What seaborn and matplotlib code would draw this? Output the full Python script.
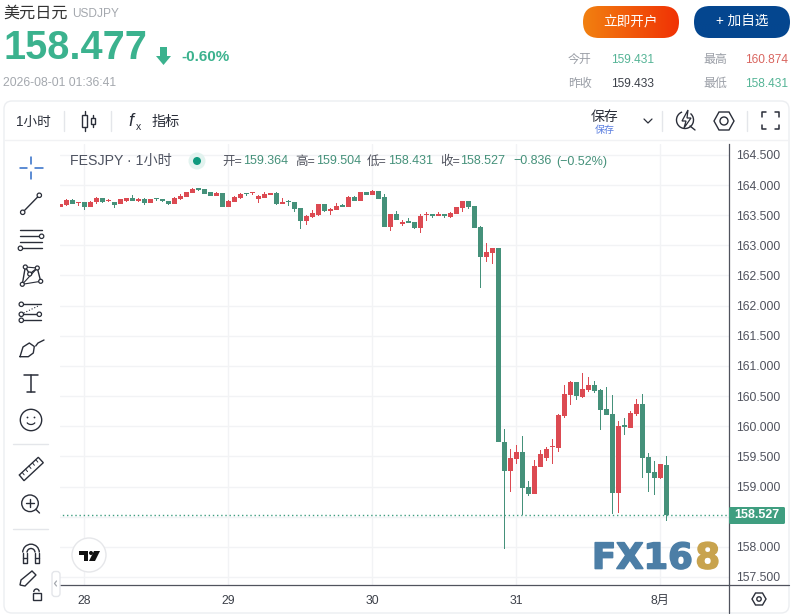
import numpy as np
import pandas as pd
import matplotlib
matplotlib.use("Agg")
import matplotlib.pyplot as plt
import matplotlib.patheffects as pe
import seaborn as sns
from matplotlib.patches import FancyBboxPatch, Circle, Rectangle, Polygon, Arc

# hourly candles
opens = [163.64, 163.67, 163.75, 163.70, 163.72, 163.64, 163.72, 163.78, 163.73, 163.72,
         163.69, 163.73, 163.78, 163.74, 163.77, 163.70, 163.77, 163.75, 163.73, 163.69,
         163.77, 163.80, 163.87, 163.93, 163.93, 163.88, 163.82, 163.87, 163.64, 163.72,
         163.78, 163.87, 163.86, 163.77, 163.78, 163.83, 163.87, 163.69, 163.72, 163.72,
         163.62, 163.40, 163.47, 163.50, 163.69, 163.57, 163.59, 163.65, 163.64, 163.80,
         163.74, 163.88, 163.83, 163.90, 163.80, 163.30, 163.52, 163.36, 163.39, 163.39,
         163.29, 163.50, 163.50, 163.49, 163.50, 163.47, 163.52, 163.62, 163.73, 163.65,
         163.30, 162.81, 162.87, 162.96, 159.74, 159.26, 159.46, 159.57, 158.99, 158.88,
         159.32, 159.47, 159.65, 159.64, 160.17, 160.52, 160.73, 160.48, 160.60, 160.68,
         160.60, 160.29, 160.20, 158.89, 160.00, 159.97, 160.20, 160.37, 159.49, 159.24,
         159.14, 159.364]
highs = [163.69, 163.77, 163.77, 163.71, 163.72, 163.73, 163.80, 163.79, 163.77, 163.72,
         163.77, 163.78, 163.83, 163.78, 163.78, 163.77, 163.78, 163.77, 163.73, 163.80,
         163.85, 163.88, 163.95, 163.94, 163.93, 163.88, 163.88, 163.87, 163.75, 163.81,
         163.86, 163.87, 163.88, 163.83, 163.88, 163.87, 163.88, 163.78, 163.75, 163.72,
         163.62, 163.50, 163.59, 163.69, 163.69, 163.62, 163.70, 163.69, 163.82, 163.82,
         163.88, 163.88, 163.91, 163.90, 163.85, 163.52, 163.57, 163.42, 163.45, 163.39,
         163.52, 163.55, 163.50, 163.55, 163.52, 163.55, 163.64, 163.73, 163.73, 163.65,
         163.32, 163.04, 162.96, 162.96, 159.95, 159.62, 159.69, 159.84, 159.09, 159.44,
         159.60, 159.66, 159.79, 160.20, 160.68, 160.75, 160.73, 160.88, 160.82, 160.75,
         160.62, 160.65, 160.52, 160.09, 160.14, 160.25, 160.45, 160.53, 159.56, 159.42,
         159.37, 159.504]
lows = [163.64, 163.65, 163.68, 163.65, 163.59, 163.64, 163.69, 163.70, 163.72, 163.62,
        163.68, 163.72, 163.73, 163.72, 163.67, 163.70, 163.73, 163.72, 163.67, 163.69,
        163.75, 163.80, 163.87, 163.90, 163.85, 163.82, 163.82, 163.64, 163.64, 163.72,
        163.77, 163.82, 163.83, 163.70, 163.78, 163.83, 163.67, 163.69, 163.65, 163.55,
        163.27, 163.34, 163.45, 163.49, 163.55, 163.50, 163.59, 163.64, 163.64, 163.74,
        163.74, 163.83, 163.83, 163.77, 163.30, 163.24, 163.42, 163.32, 163.37, 163.27,
        163.20, 163.40, 163.45, 163.49, 163.45, 163.45, 163.52, 163.55, 163.60, 163.29,
        162.29, 162.72, 162.69, 159.73, 157.97, 158.91, 159.37, 158.53, 158.84, 158.88,
        159.32, 159.42, 159.37, 159.57, 160.14, 160.35, 160.43, 160.47, 160.57, 160.55,
        159.94, 160.19, 158.54, 158.56, 159.85, 159.97, 160.17, 159.14, 158.91, 158.86,
        159.12, 158.431]
closes = [163.69, 163.75, 163.69, 163.71, 163.64, 163.72, 163.78, 163.72, 163.74, 163.67,
          163.76, 163.78, 163.74, 163.77, 163.70, 163.77, 163.76, 163.74, 163.69, 163.78,
          163.82, 163.88, 163.93, 163.92, 163.85, 163.82, 163.87, 163.64, 163.74, 163.80,
          163.85, 163.85, 163.87, 163.82, 163.85, 163.87, 163.69, 163.72, 163.71, 163.60,
          163.40, 163.49, 163.54, 163.69, 163.57, 163.61, 163.65, 163.64, 163.80, 163.74,
          163.88, 163.83, 163.90, 163.77, 163.30, 163.52, 163.42, 163.38, 163.37, 163.29,
          163.49, 163.51, 163.49, 163.50, 163.49, 163.54, 163.64, 163.73, 163.64, 163.29,
          162.81, 162.89, 162.96, 159.73, 159.26, 159.47, 159.57, 158.97, 158.88, 159.34,
          159.54, 159.62, 159.66, 160.19, 160.53, 160.73, 160.50, 160.62, 160.68, 160.58,
          160.27, 160.19, 158.89, 160.00, 159.99, 160.22, 160.37, 159.47, 159.22, 159.14,
          159.37, 158.527]

price_ticks = [157.5, 158.0, 158.5, 159.0, 159.5, 160.0, 160.5, 161.0, 161.5, 162.0,
               162.5, 163.0, 163.5, 164.0, 164.5]
day_ticks = [4, 28, 52, 76, 100]
day_labels = ["28", "29", "30", "31", "8月"]
last_price = 158.527

UP = "#dc4a52"
DOWN = "#45917a"
GRID = "#f2f3f5"
AXIS = "#50535e"
TEAL = "#3bb28e"
ICON = "#2a2e39"

sns.set_theme(style="white")
plt.rcParams["font.family"] = ["Liberation Sans", "Noto Sans CJK SC"]
plt.rcParams["axes.unicode_minus"] = False

df = pd.DataFrame({"open": opens, "high": highs, "low": lows, "close": closes})
df["bar"] = np.arange(len(df))
df["top"] = df[["open", "close"]].max(axis=1)
df["bottom"] = df[["open", "close"]].min(axis=1)

W, H = 796, 614
fig = plt.figure(figsize=(W / 100, H / 100), dpi=100, facecolor="white")
ax = fig.add_axes([60 / W, 1 - 585 / H, 669 / W, 441 / H])
ax.patch.set_alpha(0)


def candles(sub, color):
    # a thin bar for the wick, a wide one for the body
    d = sub.assign(wick=sub["high"] - sub["low"], body=(sub["top"] - sub["bottom"]).clip(lower=0.025))
    sns.barplot(data=d, x="bar", y="wick", bottom=d["low"].values, native_scale=True, orient="x",
                width=0.24, color=color, saturation=1, errorbar=None, linewidth=0, ax=ax, zorder=3)
    sns.barplot(data=d, x="bar", y="body", bottom=d["bottom"].values, native_scale=True, orient="x",
                width=0.88, color=color, saturation=1, errorbar=None, linewidth=0, ax=ax, zorder=4)


candles(df[df["close"] >= df["open"]], UP)
candles(df[df["close"] < df["open"]], DOWN)
sns.lineplot(x=[-1, 112], y=[last_price, last_price], color="#3f9e80", linestyle=(0, (1, 2)),
             linewidth=1, ax=ax, zorder=2)

ax.set_xlim(-0.05, 111.45)
ax.set_ylim(164 - 400 / 60.3, 164 + 41 / 60.3)
ax.set_xticks(day_ticks)
ax.set_xticklabels(day_labels)
ax.set_yticks(price_ticks)
# 158.500 sits behind the last-price tag, so it stays blank
ax.set_yticklabels(["" if p == 158.5 else "%.3f" % p for p in price_ticks])
ax.yaxis.tick_right()
ax.tick_params(axis="y", length=0, pad=5, labelsize=8.8, labelcolor="#50535e")
ax.tick_params(axis="x", length=0, pad=7, labelsize=8.8, labelcolor="#3c4049")
ax.set_xlabel("")
ax.set_ylabel("")
ax.grid(True, color=GRID, linewidth=1)
ax.set_axisbelow(True)
for s in ["top", "left"]:
    ax.spines[s].set_visible(False)
for s in ["right", "bottom"]:
    ax.spines[s].set_color(AXIS)
    ax.spines[s].set_linewidth(0.9)

# page furniture, in pixel coordinates of the screenshot
ov = fig.add_axes([0, 0, 1, 1], zorder=5)
ov.set_xlim(0, W)
ov.set_ylim(H, 0)
ov.axis("off")


def line(xs, ys, color=ICON, lw=1.0, **kw):
    ov.plot(xs, ys, color=color, lw=lw, solid_capstyle="round", **kw)


def ring(x, y, r=2.2, color=ICON, lw=0.9, face="white"):
    ov.add_patch(Circle((x, y), r, fc=face, ec=color, lw=lw, zorder=6))


def txt(x, y, s, size=8.8, color="#50535e", ha="left", **kw):
    ov.text(x, y, s, fontsize=size, color=color, ha=ha, va="center", **kw)


def button(x, y, w, h, colors):
    box = FancyBboxPatch((x, y), w, h, boxstyle="round,pad=0,rounding_size=16", fc="none", ec="none")
    ov.add_patch(box)
    grad = np.linspace(0, 1, 64).reshape(1, -1)
    cmap = matplotlib.colors.LinearSegmentedColormap.from_list("b", colors)
    im = ov.imshow(grad, extent=[x, x + w, y + h, y], cmap=cmap, aspect="auto", zorder=2)
    im.set_clip_path(box)


def hexagon(cx, cy, rx, ry, r_in):
    pts = [(cx - rx, cy), (cx - rx / 2, cy - ry), (cx + rx / 2, cy - ry), (cx + rx, cy),
           (cx + rx / 2, cy + ry), (cx - rx / 2, cy + ry)]
    ov.add_patch(Polygon(pts, closed=True, fc="none", ec=ICON, lw=1.0))
    ov.add_patch(Circle((cx, cy), r_in, fc="none", ec=ICON, lw=1.0))


# panel outline and chart axis extensions
ov.add_patch(FancyBboxPatch((4, 101), 785, 512, boxstyle="round,pad=0,rounding_size=8",
                            fc="none", ec="#eceef1", lw=1.0))
line([5, 788], [140, 140], color="#f1f2f4", lw=1)
line([729, 789], [585, 585], color=AXIS, lw=0.9)
line([729, 729], [585, 613], color=AXIS, lw=0.9)

# header
txt(3, 13, "美元日元", size=11.6, color="#333333")
txt(72, 14, "USDJPY", size=8.6, color="#a4a8ae")
txt(4, 48, "158.477", size=28.6, color=TEAL, fontweight="bold")
ov.add_patch(Polygon([(160, 47), (167, 47), (167, 56), (171, 56), (163.5, 65), (156, 56), (160, 56)],
                     closed=True, fc=TEAL, ec="none"))
txt(181, 57, "-0.60%", size=11, color=TEAL, fontweight="bold")
txt(3, 83, "2026-08-01 01:36:41", size=8.7, color="#a4a8ae")

button(583, 6, 96, 32, ["#f28010", "#f03205"])
button(694, 6, 96, 32, ["#04468f", "#04468f"])
txt(631, 22, "立即开户", size=9.8, color="white", ha="center")
txt(742, 22, "+ 加自选", size=9.8, color="white", ha="center")

for x, y, s, c in [(568, 60, "今开", "#9a9ea6"), (703, 60, "最高", "#9a9ea6"),
                   (568, 84, "昨收", "#9a9ea6"), (703, 84, "最低", "#9a9ea6"),
                   (611, 60, "159.431", "#55b496"), (745, 60, "160.874", "#d9655f"),
                   (611, 84, "159.433", "#3c4049"), (745, 84, "158.431", "#55b496")]:
    txt(x, y, s, size=8.6, color=c)

# top toolbar
txt(16, 122, "1小时", size=9.8, color=ICON)
line([64, 64], [111, 131], color="#e4e6ea")
line([111, 111], [111, 131], color="#e4e6ea")
line([662, 662], [111, 131], color="#e4e6ea")
line([747, 747], [111, 131], color="#e4e6ea")
line([84.5, 84.5], [111, 131])
ov.add_patch(Rectangle((82, 115), 5, 12, fc="white", ec=ICON, lw=1, zorder=6))
line([92.5, 92.5], [115, 127])
ov.add_patch(Rectangle((90.5, 118), 4, 6, fc="white", ec=ICON, lw=1, zorder=6))
txt(128, 121, "f", size=13, color=ICON, fontstyle="italic")
txt(136, 127, "x", size=7.5, color=ICON)
txt(152, 122, "指标", size=10.2, color=ICON)
txt(591, 117, "保存", size=10, color=ICON)
txt(595, 130, "保存", size=7.2, color="#5b7fe0")
line([644, 648, 652], [119, 123, 119], lw=0.9)
# alert icon
ov.add_patch(Arc((685, 120), 17, 17, theta1=-50, theta2=250, ec=ICON, lw=1))
ov.add_patch(Polygon([(688, 110), (682, 121), (686, 121), (684, 128), (691, 118), (687, 118)],
                     closed=True, fc="white", ec=ICON, lw=0.9, zorder=6))
line([690, 695], [126, 130])
hexagon(724, 121, 10, 9, 4)
for sx, sy in [(1, 1), (-1, 1), (1, -1), (-1, -1)]:
    cx, cy = 770.3 - sx * 8.7, 120.7 - sy * 8.7
    line([cx + sx * 4.5, cx, cx], [cy, cy, cy + sy * 4.5], lw=1.1)

# left toolbar
blue = "#2f6cc8"
line([20, 27], [168, 168], color=blue, lw=1.1)
line([35, 43], [168, 168], color=blue, lw=1.1)
line([31, 31], [157, 164], color=blue, lw=1.1)
line([31, 31], [172, 179], color=blue, lw=1.1)

line([22.7, 39.3], [212.3, 195.3])
ring(22.7, 212.3)
ring(39.3, 195.3)

for y, x0, x1 in [(230, 20, 42), (236, 20, 42), (242.3, 20, 42), (248.3, 20, 42)]:
    line([x0, x1], [y, y])
ring(41.6, 236.3)
ring(20.4, 248.3)

xabcd = [(22.3, 284.3), (25.3, 267), (29.7, 274), (37.3, 268), (40.7, 281.3)]
line([p[0] for p in xabcd], [p[1] for p in xabcd])
line([25.3, 37.3, 22.3, 40.7], [267, 268, 284.3, 281.3], lw=0.8)
for p in xabcd:
    ring(p[0], p[1], r=2)

line([21, 41], [304.3, 304.3])
line([21, 39], [314.3, 314.3])
line([21, 41], [320.3, 320.3])
ov.plot([21, 39], [314.3, 305.6], color=ICON, lw=0.8, ls=":")
ring(21.3, 304.3)
ring(21.3, 314.3)
ring(39.3, 314.3)
ring(21.3, 320.3)

brush = [(20, 356.7), (23, 347), (29.3, 343), (34.3, 346.5), (33.3, 353), (28.3, 356.7), (20, 356.7)]
line([p[0] for p in brush], [p[1] for p in brush])
line([35.7, 38, 44], [346, 343, 340])

line([24, 38.3], [375, 375], lw=1.1)
line([31, 31], [375, 392.3], lw=1.1)
line([26.7, 35.3], [392.3, 392.3], lw=1.1)

ov.add_patch(Circle((31, 420), 10.7, fc="none", ec=ICON, lw=1))
ov.add_patch(Circle((27.5, 417.5), 0.9, fc=ICON, ec="none"))
ov.add_patch(Circle((34.5, 417.5), 0.9, fc=ICON, ec="none"))
ov.add_patch(Arc((31, 421), 9, 7, theta1=20, theta2=160, ec=ICON, lw=0.9))

line([13, 48], [444.3, 444.3], color="#e4e6ea")
ov.add_patch(Polygon([(19.3, 475), (38.3, 457.3), (43.3, 462.7), (24, 480.7)], closed=True,
                     fc="none", ec=ICON, lw=1))
for t in np.arange(0.15, 0.95, 0.18):
    bx, by = 19.3 + t * 19, 475 - t * 17.7
    line([bx, bx + 2], [by, by + 2.5], lw=0.7)

ov.add_patch(Circle((30, 503.3), 8.3, fc="none", ec=ICON, lw=1))
line([26, 34], [503.3, 503.3])
line([30, 30], [499.3, 507.3])
line([36, 39.5], [509.5, 513])

line([13, 48], [529, 529], color="#e4e6ea")
ov.add_patch(Arc((31, 552.5), 16.6, 16.6, theta1=180, theta2=360, ec=ICON, lw=1))
ov.add_patch(Arc((31, 552.5), 8, 8, theta1=180, theta2=360, ec=ICON, lw=1))
line([22.7, 22.7, 27, 27], [552.5, 563, 563, 552.5])
line([39.3, 39.3, 35, 35], [552.5, 563, 563, 552.5])
line([22.7, 27], [557.5, 557.5])
line([35, 39.3], [557.5, 557.5])

ov.add_patch(Polygon([(20, 585), (21, 580), (32, 571), (36, 575), (25, 586)], closed=True,
                     fc="none", ec=ICON, lw=1))
ov.add_patch(Rectangle((32.5, 593), 8, 6.5, fc="none", ec=ICON, lw=1))
ov.add_patch(Arc((36.5, 592), 5.5, 6, theta1=180, theta2=350, ec=ICON, lw=1))
ov.add_patch(FancyBboxPatch((52, 571.5), 8, 25, boxstyle="round,pad=0,rounding_size=3",
                            fc="white", ec="#e4e6ea", lw=1))
line([56.5, 54.5, 56.5], [581, 583.5, 586], color="#a4a8ae", lw=0.9)

# chart legend line
txt(70, 161, "FESJPY · 1小时", size=10.2, color="#4d5260")
ov.add_patch(Circle((197, 161), 8.5, fc="#e2f3ef", ec="none"))
ov.add_patch(Circle((197, 161), 4, fc="#0f9a7e", ec="none"))
for x, s, c in [(222, "开=", "#50535e"), (243, "159.364", DOWN), (295, "高=", "#50535e"), (316, "159.504", DOWN),
                (367, "低=", "#50535e"), (388, "158.431", DOWN), (440, "收=", "#50535e"), (460, "158.527", DOWN),
                (513, "−0.836", DOWN), (556, "(−0.52%)", DOWN)]:
    txt(x, 161.5, s, size=9, color=c)

# price tag and bottom-right settings
ov.add_patch(FancyBboxPatch((729, 507), 56, 17, boxstyle="round,pad=0,rounding_size=1.5",
                            fc="#3f9e80", ec="none"))
txt(757, 515.5, "158.527", size=9, color="white", ha="center", fontweight="bold")
hexagon(759, 599, 7, 6, 2.2)

# TradingView mark and the watermark
ov.add_patch(Circle((89, 555), 17, fc="white", ec="#e6e7ea", lw=1))
ov.add_patch(Polygon([(79, 551), (88, 551), (88, 561), (84, 561), (84, 555), (79, 555)], closed=True,
                     fc="#111111", ec="none"))
ov.add_patch(Circle((91, 553), 2, fc="#111111", ec="none"))
ov.add_patch(Polygon([(94, 551), (100, 551), (95, 561), (89, 561)], closed=True, fc="#111111", ec="none"))
thick = [pe.withStroke(linewidth=1.2, foreground="#4c7ea6")]
ov.text(592, 558.5, "FX16", fontsize=25.5, fontfamily="DejaVu Sans", fontweight="bold",
        color="#4c7ea6", ha="left", va="center", path_effects=thick)
ov.text(720, 558.5, "8", fontsize=25.5, fontfamily="DejaVu Sans", fontweight="bold",
        color="#c8a34e", ha="right", va="center",
        path_effects=[pe.withStroke(linewidth=1.2, foreground="#c8a34e")])

fig.savefig("out.png", dpi=100)
